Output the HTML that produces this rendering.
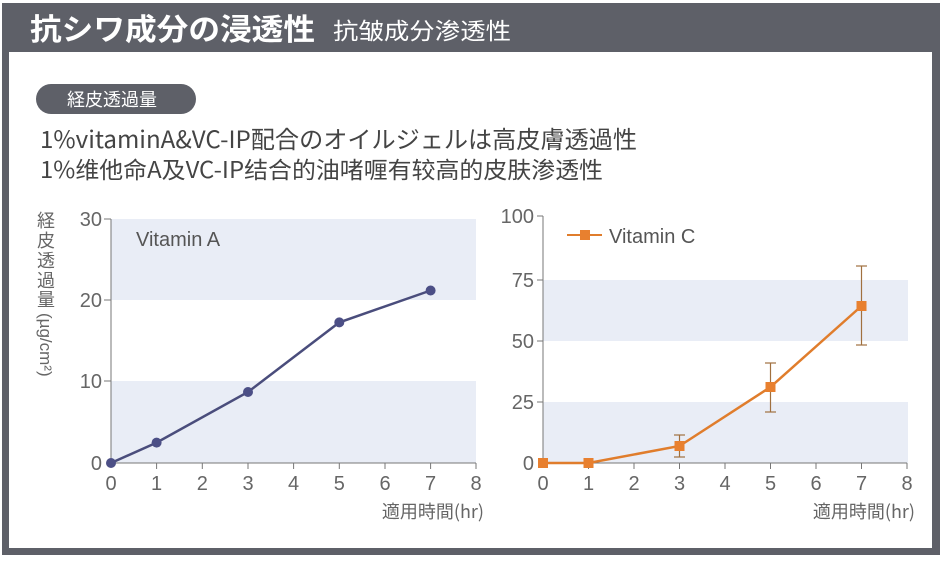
<!DOCTYPE html>
<html><head><meta charset="utf-8"><style>
body{margin:0;width:942px;height:560px;background:#fff;font-family:"Liberation Sans","Noto Sans CJK JP",sans-serif;overflow:hidden}
</style></head><body>
<svg width="942" height="560" xmlns="http://www.w3.org/2000/svg" font-family="Liberation Sans, Noto Sans CJK JP, sans-serif">
<rect x="0" y="0" width="942" height="560" fill="#fff"/>
<rect x="2" y="3" width="938" height="552" fill="#5e6068"/>
<rect x="9" y="52" width="923" height="496" fill="#fff"/>
<text x="30" y="40" font-size="30" fill="#fff" font-family="Noto Sans CJK JP, sans-serif" font-weight="bold" textLength="285" lengthAdjust="spacingAndGlyphs">抗シワ成分の浸透性</text>
<text x="333" y="39" font-size="23" fill="#fff" font-family="Noto Sans CJK SC, sans-serif" textLength="178" lengthAdjust="spacingAndGlyphs">抗皱成分渗透性</text>
<rect x="36" y="84" width="160" height="30" rx="15" fill="#5e6068"/>
<text x="67" y="106" font-size="18" fill="#fff" font-family="Noto Sans CJK JP, sans-serif">経皮透過量</text>
<text x="40" y="148" font-size="24" fill="#444" font-family="Noto Sans CJK JP, sans-serif" textLength="597" lengthAdjust="spacingAndGlyphs">1%vitaminA&amp;VC-IP配合のオイルジェルは高皮膚透過性</text>
<text x="40" y="178" font-size="23" fill="#444" font-family="Noto Sans CJK SC, sans-serif" textLength="563" lengthAdjust="spacingAndGlyphs">1%维他命A及VC-IP结合的油啫喱有较高的皮肤渗透性</text>

<!-- Left chart -->
<rect x="111" y="219" width="365" height="81" fill="#e9edf6"/>
<rect x="111" y="381" width="365" height="82" fill="#e9edf6"/>
<g stroke="#777" stroke-width="1" fill="none">
<line x1="111" y1="219" x2="111" y2="463"/>
<line x1="111" y1="463" x2="476" y2="463"/>
<line x1="104" y1="219" x2="111" y2="219"/><line x1="104" y1="300" x2="111" y2="300"/><line x1="104" y1="381" x2="111" y2="381"/>
<line x1="156.6" y1="463" x2="156.6" y2="469"/><line x1="202.3" y1="463" x2="202.3" y2="469"/><line x1="248" y1="463" x2="248" y2="469"/><line x1="293.6" y1="463" x2="293.6" y2="469"/><line x1="339.3" y1="463" x2="339.3" y2="469"/><line x1="385" y1="463" x2="385" y2="469"/><line x1="430.6" y1="463" x2="430.6" y2="469"/><line x1="476" y1="463" x2="476" y2="469"/>
</g>
<g font-size="20" fill="#666" text-anchor="end">
<text x="102" y="226">30</text><text x="102" y="307">20</text><text x="102" y="388">10</text><text x="102" y="470">0</text>
</g>
<g font-size="20" fill="#666" text-anchor="middle">
<text x="111" y="490">0</text><text x="156.6" y="490">1</text><text x="202.3" y="490">2</text><text x="248" y="490">3</text><text x="293.6" y="490">4</text><text x="339.3" y="490">5</text><text x="385" y="490">6</text><text x="430.6" y="490">7</text><text x="476" y="490">8</text>
</g>
<text x="484" y="518" font-size="18" fill="#666" text-anchor="end" font-family="Noto Sans CJK JP, sans-serif">適用時間(hr)</text>
<text x="136" y="246" font-size="20" fill="#555">Vitamin A</text>
<g font-size="18" fill="#666" font-family="Noto Sans CJK JP, sans-serif" text-anchor="middle">
<text x="46" y="227">経</text><text x="46" y="247">皮</text><text x="46" y="267">透</text><text x="46" y="287">過</text><text x="46" y="306">量</text>
</g>
<text transform="translate(40,313) rotate(90)" font-size="17" fill="#666">(µg/cm²)</text>
<polyline points="111,463 156.6,442.6 248,392 339.3,322.4 430.6,290.5" fill="none" stroke="#4a4d7c" stroke-width="2.5"/>
<g fill="#4c4f86">
<circle cx="111" cy="463" r="5"/><circle cx="156.6" cy="442.6" r="5"/><circle cx="248" cy="392" r="5"/><circle cx="339.3" cy="322.4" r="5"/><circle cx="430.6" cy="290.5" r="5"/>
</g>

<!-- Right chart -->
<rect x="543" y="280" width="365" height="61" fill="#e9edf6"/>
<rect x="543" y="402" width="365" height="61" fill="#e9edf6"/>
<g stroke="#777" stroke-width="1" fill="none">
<line x1="543" y1="216" x2="543" y2="463"/>
<line x1="543" y1="463" x2="907" y2="463"/>
<line x1="537" y1="216" x2="543" y2="216"/><line x1="537" y1="280" x2="543" y2="280"/><line x1="537" y1="341" x2="543" y2="341"/><line x1="537" y1="402" x2="543" y2="402"/>
<line x1="588.5" y1="463" x2="588.5" y2="469"/><line x1="634" y1="463" x2="634" y2="469"/><line x1="679.5" y1="463" x2="679.5" y2="469"/><line x1="725" y1="463" x2="725" y2="469"/><line x1="770.5" y1="463" x2="770.5" y2="469"/><line x1="816" y1="463" x2="816" y2="469"/><line x1="861.5" y1="463" x2="861.5" y2="469"/><line x1="907" y1="463" x2="907" y2="469"/>
</g>
<g font-size="20" fill="#666" text-anchor="end">
<text x="534" y="223">100</text><text x="534" y="287">75</text><text x="534" y="348">50</text><text x="534" y="409">25</text><text x="534" y="470">0</text>
</g>
<g font-size="20" fill="#666" text-anchor="middle">
<text x="543" y="490">0</text><text x="588.5" y="490">1</text><text x="634" y="490">2</text><text x="679.5" y="490">3</text><text x="725" y="490">4</text><text x="770.5" y="490">5</text><text x="816" y="490">6</text><text x="861.5" y="490">7</text><text x="907" y="490">8</text>
</g>
<text x="915" y="518" font-size="18" fill="#666" text-anchor="end" font-family="Noto Sans CJK JP, sans-serif">適用時間(hr)</text>
<line x1="567" y1="235" x2="602" y2="235" stroke="#e07d2c" stroke-width="2"/>
<rect x="580" y="230" width="10" height="10" fill="#e8802f"/>
<text x="609" y="243" font-size="20" fill="#555">Vitamin C</text>
<g stroke="#a0703f" stroke-width="1.2">
<line x1="679.5" y1="435" x2="679.5" y2="457"/><line x1="674" y1="435" x2="685" y2="435"/><line x1="674" y1="457" x2="685" y2="457"/>
<line x1="770.5" y1="363" x2="770.5" y2="412"/><line x1="765" y1="363" x2="776" y2="363"/><line x1="765" y1="412" x2="776" y2="412"/>
<line x1="861.5" y1="266" x2="861.5" y2="345"/><line x1="856" y1="266" x2="867" y2="266"/><line x1="856" y1="345" x2="867" y2="345"/>
</g>
<polyline points="543,463 588.5,463 679.5,446 770.5,387 861.5,306" fill="none" stroke="#e07d2c" stroke-width="2.5"/>
<g fill="#e8802f">
<rect x="538" y="458" width="10" height="10"/><rect x="583.5" y="458" width="10" height="10"/><rect x="674.5" y="441" width="10" height="10"/><rect x="765.5" y="382" width="10" height="10"/><rect x="856.5" y="301" width="10" height="10"/>
</g>
</svg>
</body></html>
